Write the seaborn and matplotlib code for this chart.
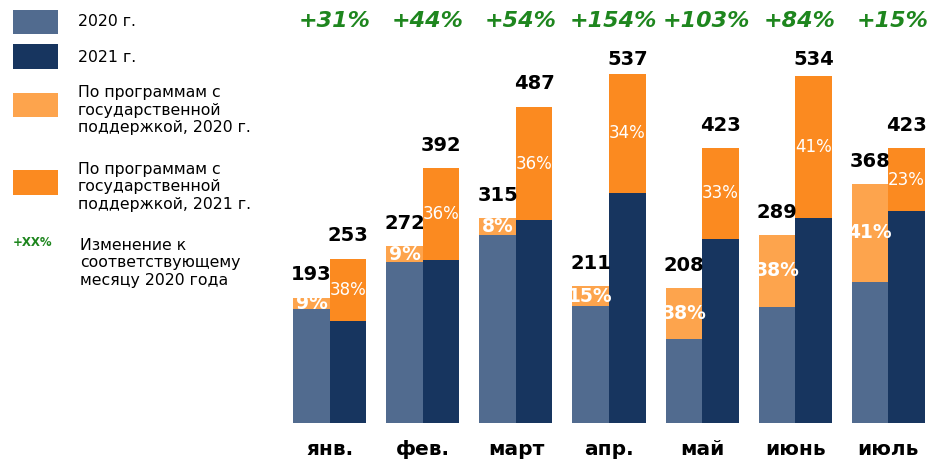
import matplotlib
matplotlib.use("Agg")
import matplotlib.pyplot as plt
from matplotlib.patches import Rectangle
import seaborn as sns
import pandas as pd

# ---- data ----
months = ["янв.", "фев.", "март", "апр.", "май", "июнь", "июль"]
total_2020 = [193, 272, 315, 211, 208, 289, 368]
total_2021 = [253, 392, 487, 537, 423, 534, 423]
state_pct_2020 = [9, 9, 8, 15, 38, 38, 41]
state_pct_2021 = [38, 36, 36, 34, 33, 41, 23]
growth_labels = ["+31%", "+44%", "+54%", "+154%", "+103%", "+84%", "+15%"]
years = ["2020 г.", "2021 г."]

# ---- colours ----
C2020 = "#516b8f"
C2021 = "#17355f"
CO2020 = "#fda44d"
CO2021 = "#fb8a20"
GREEN = "#1e861e"

rows = []
for i, m in enumerate(months):
    for y, tot, pct in ((years[0], total_2020[i], state_pct_2020[i]),
                        (years[1], total_2021[i], state_pct_2021[i])):
        rows.append({"month": m, "year": y, "total": tot,
                     "base": tot * (1 - pct / 100.0), "pct": pct})
df = pd.DataFrame(rows)

sns.set_style("white")
plt.rcParams['font.family'] = ['DejaVu Sans']

W, H = 953, 459
fig = plt.figure(figsize=(W / 100, H / 100), dpi=100)

# legend layer in pixel coordinates
lg = fig.add_axes([0, 0, 1, 1])
lg.set_xlim(0, W)
lg.set_ylim(H, 0)
lg.axis("off")
lg.patch.set_alpha(0)

ax = fig.add_axes([274 / W, 36 / H, 670 / W, 423 / H])
BW = 0.785
sns.barplot(data=df, x="month", y="total", hue="year", order=months,
            hue_order=years, palette=[CO2020, CO2021], width=BW, gap=0,
            dodge=True, saturation=1, legend=False, ax=ax, errorbar=None,
            edgecolor="none")
sns.barplot(data=df, x="month", y="base", hue="year", order=months,
            hue_order=years, palette=[C2020, C2021], width=BW, gap=0,
            dodge=True, saturation=1, legend=False, ax=ax, errorbar=None,
            edgecolor="none")

YMAX = 651
ax.set_xlim(-0.6, 6.6)
ax.set_ylim(0, YMAX)
ax.set_xlabel("")
ax.set_ylabel("")
ax.set_yticks([])
for s in ax.spines.values():
    s.set_visible(False)
ax.tick_params(axis="x", length=0, pad=12, colors="black")
for t in ax.get_xticklabels():
    t.set_fontweight("bold")
    t.set_fontsize(14.5)
    t.set_color("black")

off = BW / 4
for i in range(len(months)):
    for k, (tot, pct) in enumerate(((total_2020[i], state_pct_2020[i]),
                                     (total_2021[i], state_pct_2021[i]))):
        x = i + (-off if k == 0 else off)
        base = tot * (1 - pct / 100.0)
        ax.text(x, min(tot + 35, 560), f"{tot}", ha="center", va="center",
                fontsize=14, fontweight="bold", color="black")
        ax.text(x, base + (tot - base) / 2, f"{pct}%", ha="center",
                va="center", color="white",
                fontsize=13.5 if k == 0 else 12,
                fontweight="bold" if k == 0 else "normal")
    ax.text(i + 0.05, 618, growth_labels[i], ha="center", va="center",
            fontsize=16, fontweight="bold", fontstyle="italic", color=GREEN)

# ---- manual legend ----
items = [
    (C2020, 10, 24, 22, "2020 г."),
    (C2021, 44, 25, 58, "2021 г."),
    (CO2020, 93, 24, 110, "По программам с\nгосударственной\nподдержкой, 2020 г."),
    (CO2021, 170, 25, 187, "По программам с\nгосударственной\nподдержкой, 2021 г."),
]
for col, y0, h, ty, txt in items:
    lg.add_patch(Rectangle((13, y0), 45, h, color=col, lw=0))
    lg.text(78, ty, txt, ha="left", va="center", fontsize=11.3,
            color="black", linespacing=1.2)
lg.text(13, 243, "+XX%", ha="left", va="center", fontsize=8.5,
        fontweight="bold", color=GREEN)
lg.text(80, 263, "Изменение к\nсоответствующему\nмесяцу 2020 года", ha="left",
        va="center", fontsize=11.3, color="black", linespacing=1.2)

fig.savefig("out.png", dpi=100)
